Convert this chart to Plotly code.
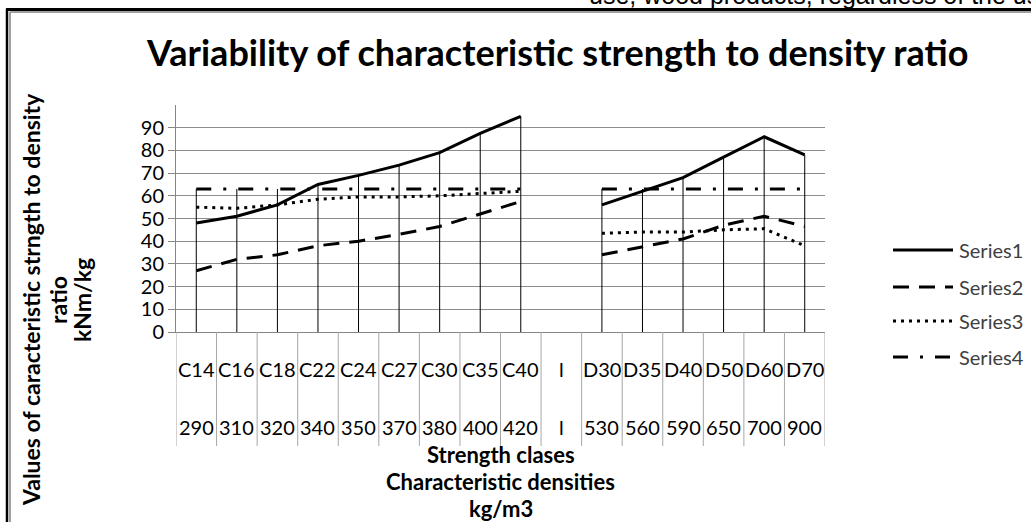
import plotly.graph_objects as go

# ---- data ----
classes = ['C14','C16','C18','C22','C24','C27','C30','C35','C40','l','D30','D35','D40','D50','D60','D70']
densities = ['290','310','320','340','350','370','380','400','420','l','530','560','590','650','700','900']
series1 = [48, 51, 56, 65, 69, 73.5, 79, 87.5, 95, None, 56, 62, 68, 77, 86, 78]
series2 = [27, 32, 34, 38, 40, 43, 46.5, 52, 57.5, None, 34, 37.5, 41, 47, 51, 46.5]
series3 = [55, 54.5, 56, 58.5, 59.5, 59.5, 60, 61, 62, None, 43.5, 44, 44, 45, 45.5, 38]
series4 = [63, 63, 63, 63, 63, 63, 63, 63, 63, None, 63, 63, 63, 63, 63, 63]
series_names = ['Series1', 'Series2', 'Series3', 'Series4']
y_ticks = [0, 10, 20, 30, 40, 50, 60, 70, 80, 90]

W, H = 1031, 522
L, R, T, B = 176, 825, 105, 332
PW, PH = R - L, B - T

def px(x):
    return (x - L) / PW

def py(y):
    return (B - y) / PH

FONT = 'Lato, Carlito, Calibri, sans-serif'
dashes = ['solid', '16px,10px', '3px,5px', '15px,12px,3px,12px']
all_series = [series1, series2, series3, series4]

xs = list(range(len(classes)))
fig = go.Figure()

# drop lines from the highest point to the axis
dx, dy = [], []
for i in xs:
    vals = [s[i] for s in all_series if s[i] is not None]
    if vals:
        dx += [i, i, None]
        dy += [0, max(vals), None]
fig.add_trace(go.Scatter(x=dx, y=dy, mode='lines', line=dict(color='black', width=1),
                         showlegend=False, hoverinfo='skip'))

for name, s, d in zip(series_names, all_series, dashes):
    fig.add_trace(go.Scatter(x=xs, y=s, mode='lines', name=name,
                             line=dict(color='black', width=3, dash=d),
                             connectgaps=False, showlegend=False))

shapes = []
annotations = []

# category separators and labels
for i in range(len(classes) + 1):
    shapes.append(dict(type='line', xref='x', yref='paper', x0=i - 0.5, x1=i - 0.5,
                       y0=0, y1=py(446), line=dict(color='#a6a6a6', width=1)))
for i, (c, d) in enumerate(zip(classes, densities)):
    annotations.append(dict(x=i, y=py(369), xref='x', yref='paper', text=c, showarrow=False,
                            font=dict(family=FONT, size=20, color='black'), xanchor='center', yanchor='middle'))
    annotations.append(dict(x=i, y=py(427), xref='x', yref='paper', text=d, showarrow=False,
                            font=dict(family=FONT, size=20, color='black'), xanchor='center', yanchor='middle'))

# x title lines
for txt, yy in [('Strength clases', 454), ('Characteristic densities', 481), ('kg/m3', 508)]:
    annotations.append(dict(x=0.5, y=py(yy), xref='paper', yref='paper', text='<b>%s</b>' % txt,
                            showarrow=False, font=dict(family=FONT, size=22, color='black'),
                            xanchor='center', yanchor='middle'))

# y title lines
for txt, xx in [('Values of caracteristic strngth to density', 31), ('ratio', 58), ('kNm/kg', 82)]:
    annotations.append(dict(x=px(xx), y=py(300), xref='paper', yref='paper', text='<b>%s</b>' % txt,
                            showarrow=False, textangle=-90, font=dict(family=FONT, size=23, color='black'),
                            xanchor='center', yanchor='middle'))

# title
annotations.append(dict(x=px(557), y=py(52), xref='paper', yref='paper',
                        text='<b>Variability of characteristic strength to density ratio</b>',
                        showarrow=False, font=dict(family=FONT, size=36, color='black'),
                        xanchor='center', yanchor='middle'))

# clipped document text at the top
annotations.append(dict(x=px(587), y=py(-5), xref='paper', yref='paper',
                        text='use, wood products, regardless of the use',
                        showarrow=False, font=dict(family='Liberation Sans, Arial', size=25, color='black'),
                        xanchor='left', yanchor='middle'))

# legend
leg_y = [250, 287, 321, 357]
for name, d, yy in zip(series_names, dashes, leg_y):
    shapes.append(dict(type='line', xref='paper', yref='paper', x0=px(893), x1=px(953),
                       y0=py(yy), y1=py(yy), line=dict(color='black', width=3, dash=d)))
    annotations.append(dict(x=px(957), y=py(yy), xref='paper', yref='paper', text=name,
                            showarrow=False, font=dict(family=FONT, size=20, color='#404040'),
                            xanchor='left', yanchor='middle'))

# frame
shapes.append(dict(type='line', xref='paper', yref='paper', x0=px(6), x1=px(1040), y0=py(9.5), y1=py(9.5),
                   line=dict(color='black', width=3)))
shapes.append(dict(type='line', xref='paper', yref='paper', x0=px(7), x1=px(7), y0=py(9), y1=py(530),
                   line=dict(color='black', width=2.5)))
shapes.append(dict(type='line', xref='paper', yref='paper', x0=px(10), x1=px(1040), y0=py(12), y1=py(12),
                   line=dict(color='#a0a0a0', width=2)))
shapes.append(dict(type='line', xref='paper', yref='paper', x0=px(10), x1=px(10), y0=py(12), y1=py(530),
                   line=dict(color='#a0a0a0', width=2)))

fig.update_layout(
    width=W, height=H,
    margin=dict(l=L, r=W - R, t=T, b=H - B),
    paper_bgcolor='white', plot_bgcolor='white',
    showlegend=False,
    shapes=shapes, annotations=annotations,
    font=dict(family=FONT, color='black'),
)
fig.update_xaxes(range=[-0.5, len(classes) - 0.5], showticklabels=False, showgrid=False,
                 zeroline=False, showline=True, linecolor='#868686', linewidth=1, ticks='')
fig.update_yaxes(range=[0, 100], tickvals=y_ticks, showgrid=True, gridcolor='#8c8c8c', gridwidth=1,
                 zeroline=False, showline=True, linecolor='#868686', linewidth=1,
                 ticks='outside', ticklen=7, tickcolor='#868686',
                 tickfont=dict(family=FONT, size=20, color='black'))

fig.write_html('out.html')
